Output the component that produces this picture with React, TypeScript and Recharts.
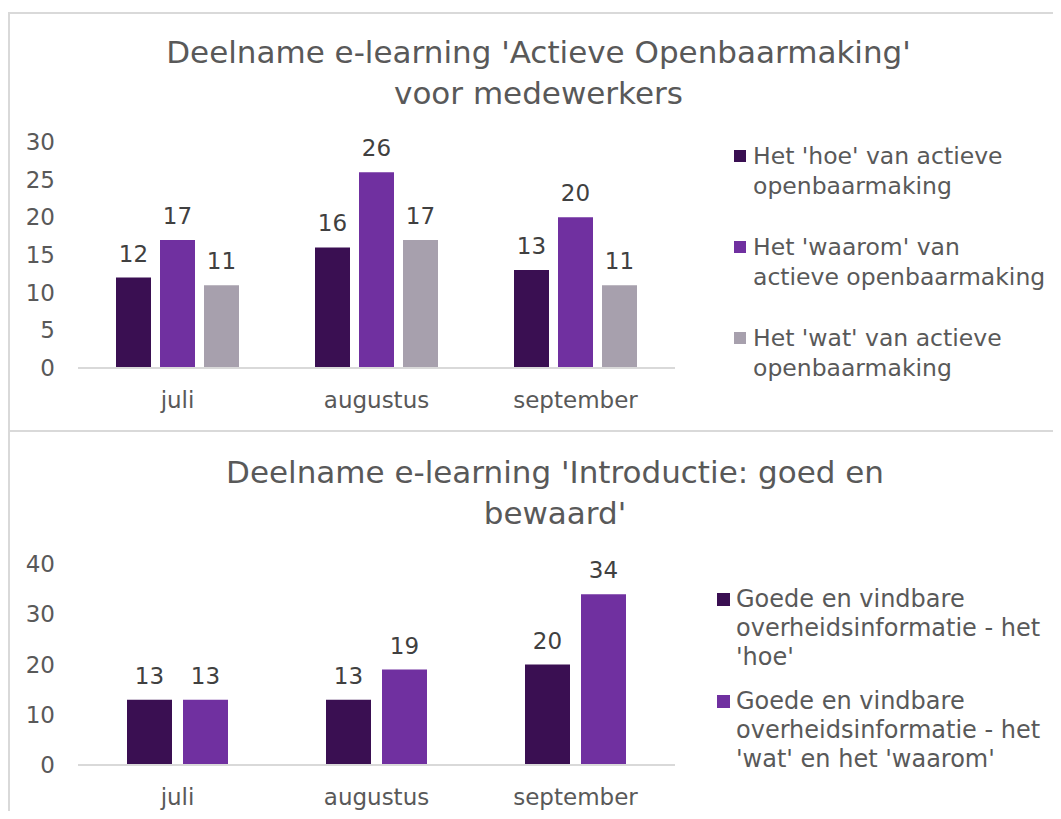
import { BarChart, Bar, XAxis, YAxis, LabelList } from 'recharts'

const months = ['juli', 'augustus', 'september']

// chart 1: Actieve Openbaarmaking
const hoeAO = [12, 16, 13]
const waaromAO = [17, 26, 20]
const watAO = [11, 17, 11]
const ticksAO = [0, 5, 10, 15, 20, 25, 30]
const seriesAO = [
  { key: 'hoe', name: "Het 'hoe' van actieve\nopenbaarmaking", color: '#3A0F52', values: hoeAO },
  { key: 'waarom', name: "Het 'waarom' van\nactieve openbaarmaking", color: '#7030A0', values: waaromAO },
  { key: 'wat', name: "Het 'wat' van actieve\nopenbaarmaking", color: '#A7A0AD', values: watAO },
]

// chart 2: Introductie: goed en bewaard
const hoeGB = [13, 13, 20]
const watWaaromGB = [13, 19, 34]
const ticksGB = [0, 10, 20, 30, 40]
const seriesGB = [
  { key: 'hoe', name: "Goede en vindbare\noverheidsinformatie - het\n'hoe'", color: '#3A0F52', values: hoeGB },
  { key: 'watWaarom', name: "Goede en vindbare\noverheidsinformatie - het\n'wat' en het 'waarom'", color: '#7030A0', values: watWaaromGB },
]

const FONT = '"DejaVu Sans", Verdana, sans-serif'
const TEXT = '#595959'
const GRID = '#D9D9D9'

type Series = { key: string; name: string; color: string; values: number[] }

function toRows(series: Series[]) {
  return months.map((m, i) => {
    const row: Record<string, string | number> = { month: m }
    series.forEach((s) => (row[s.key] = s.values[i]))
    return row
  })
}

function LegendBox({ series, left, top, square, text, gap, fontSize, lineHeight }: {
  series: Series[]; left: number; top: number; square: number; text: number
  gap: number; fontSize: number; lineHeight: number
}) {
  return (
    <div style={{ position: 'absolute', left, top, display: 'flex', flexDirection: 'column', gap }}>
      {series.map((s) => (
        <div key={s.key} style={{ position: 'relative', paddingLeft: text, fontSize, lineHeight: `${lineHeight}px`, color: TEXT, whiteSpace: 'pre' }}>
          <span style={{ position: 'absolute', left: 0, top: 8, width: square, height: square, background: s.color }} />
          {s.name}
        </div>
      ))}
    </div>
  )
}

function Chart({ series, ticks, barSize, barGap, height, xHeight }: {
  series: Series[]; ticks: number[]; barSize: number; barGap: number; height: number; xHeight: number
}) {
  const tick = { fontSize: 23, fill: TEXT, fontFamily: FONT }
  return (
    <BarChart
      width={1053}
      height={height}
      data={toRows(series)}
      barSize={barSize}
      barGap={barGap}
      margin={{ top: 34, right: 386, bottom: 0, left: 10 }}
    >
      <XAxis
        dataKey="month"
        tick={tick}
        tickLine={false}
        axisLine={{ stroke: GRID, strokeWidth: 2 }}
        tickMargin={18}
        height={xHeight}
        interval={0}
      />
      <YAxis
        domain={[0, ticks[ticks.length - 1]]}
        ticks={ticks}
        tick={tick}
        tickLine={false}
        axisLine={false}
        tickMargin={17}
        width={60}
        interval={0}
      />
      {series.map((s) => (
        <Bar key={s.key} dataKey={s.key} name={s.name.replace(/\n/g, ' ')} fill={s.color} isAnimationActive={false}>
          <LabelList dataKey={s.key} position="top" offset={16} fill="#404040" fontSize={23} fontFamily={FONT} />
        </Bar>
      ))}
    </BarChart>
  )
}

export default function App() {
  const title = { position: 'absolute' as const, textAlign: 'center' as const, fontSize: 31, lineHeight: '41px', color: TEXT }
  return (
    <div style={{ position: 'relative', width: 1053, height: 803, overflow: 'hidden', fontFamily: FONT, background: '#fff' }}>
      <div style={{ position: 'absolute', left: 0, top: 4, width: 1070, height: 418, borderTop: `2px solid ${GRID}`, borderLeft: `2px solid ${GRID}`, boxSizing: 'border-box' }} />
      <div style={{ position: 'absolute', left: 0, top: 422, width: 1070, height: 400, borderTop: `2px solid ${GRID}`, borderLeft: `2px solid ${GRID}`, boxSizing: 'border-box' }} />

      <div style={{ ...title, left: 0, top: 23.5, width: 1061 }}>
        Deelname e-learning 'Actieve Openbaarmaking'<br />voor medewerkers
      </div>
      <div style={{ position: 'absolute', left: 0, top: 100 }}>
        <Chart series={seriesAO} ticks={ticksAO} barSize={35} barGap={9} height={320} xHeight={60} />
      </div>
      <LegendBox series={seriesAO} left={726} top={134} square={12} text={19} gap={32} fontSize={23.5} lineHeight={29.5} />

      <div style={{ ...title, left: 0, top: 443.5, width: 1094 }}>
        Deelname e-learning 'Introductie: goed en<br />bewaard'
      </div>
      <div style={{ position: 'absolute', left: 0, top: 522 }}>
        <Chart series={seriesGB} ticks={ticksGB} barSize={45} barGap={11} height={283} xHeight={48} />
      </div>
      <LegendBox series={seriesGB} left={709} top={577} square={13} text={19} gap={14.5} fontSize={24} lineHeight={29} />
    </div>
  )
}
